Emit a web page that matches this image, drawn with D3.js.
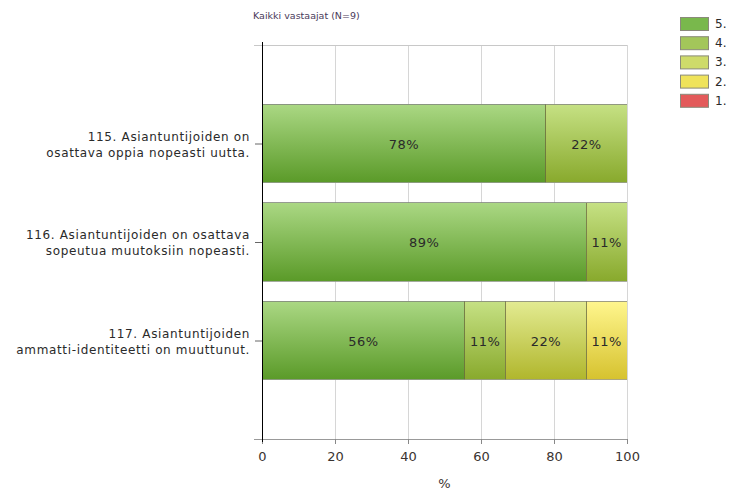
<!DOCTYPE html>
<html><head><meta charset="utf-8">
<script src="https://cdn.jsdelivr.net/npm/d3@7"></script>
<style>body{margin:0;background:#fff;font-family:"DejaVu Sans",Verdana,sans-serif;}</style>
</head><body><svg id="c" width="731" height="491"></svg>
<script>
const title = "Kaikki vastaajat (N=9)";
const categories = [
  ["115. Asiantuntijoiden on", "osattava oppia nopeasti uutta."],
  ["116. Asiantuntijoiden on osattava", "sopeutua muutoksiin nopeasti."],
  ["117. Asiantuntijoiden", "ammatti-identiteetti on muuttunut."]
];
const seriesNames = ["5.", "4.", "3.", "2.", "1."];
const s5 = [77.8, 88.9, 55.6];
const s4 = [22.2, 11.1, 11.1];
const s3 = [0, 0, 22.2];
const s2 = [0, 0, 11.1];
const s1 = [0, 0, 0];
const seriesValues = [s5, s4, s3, s2, s1];
const xTicks = [0, 20, 40, 60, 80, 100];
const xLabel = "%";

const colors = [
  {top:"#abd884", bot:"#5a9a28", leg:"#79b84c"},
  {top:"#c6e184", bot:"#88a92c", leg:"#a3c65a"},
  {top:"#e3eb92", bot:"#b0b62c", leg:"#cedb6a"},
  {top:"#fff68e", bot:"#d6c22e", leg:"#efe35a"},
  {top:"#f08a8a", bot:"#d83a3a", leg:"#e35a5a"}
];

const svg = d3.select("#c");
const defs = svg.append("defs");
colors.forEach((c,i)=>{
  const g = defs.append("linearGradient").attr("id","g"+i).attr("x1",0).attr("y1",0).attr("x2",0).attr("y2",1);
  g.append("stop").attr("offset","0%").attr("stop-color",c.top);
  g.append("stop").attr("offset","100%").attr("stop-color",c.bot);
});

const L = 262, R = 627, T = 45, B = 439;
const x = d3.scaleLinear().domain([0,100]).range([L,R]);
const y = d3.scaleLinear().domain([0, categories.length+1]).range([T,B]);
const bandH = y(1)-y(0);
const barH = bandH*0.8;

svg.append("text").attr("x",253).attr("y",19).attr("font-size",9.5).attr("fill","#4a3a5a").text(title);

// gridlines
svg.append("g").selectAll("line").data(xTicks.slice(1)).join("line")
  .attr("x1",d=>x(d)).attr("x2",d=>x(d)).attr("y1",T).attr("y2",B)
  .attr("stroke","#d6d6d6").attr("stroke-width",1).attr("shape-rendering","crispEdges");
// top border
svg.append("line").attr("x1",254).attr("x2",R).attr("y1",T).attr("y2",T)
  .attr("stroke","#c8c8c8").attr("shape-rendering","crispEdges");

// bars
categories.forEach((cat,ci)=>{
  let acc = 0;
  const yc = y(ci+1);
  seriesValues.forEach((vals,si)=>{
    const v = vals[ci];
    if (v<=0) return;
    const x0 = x(acc), x1 = x(acc+v);
    svg.append("rect").attr("x",x0).attr("y",yc-barH/2).attr("width",x1-x0).attr("height",barH)
      .attr("fill","url(#g"+si+")");
    if (acc>0) svg.append("line").attr("x1",x0).attr("x2",x0).attr("y1",yc-barH/2).attr("y2",yc+barH/2)
      .attr("stroke","#6b6b3a").attr("stroke-opacity",0.8).attr("shape-rendering","crispEdges");
    svg.append("text").attr("x",(x0+x1)/2).attr("y",yc+5).attr("text-anchor","middle")
      .attr("font-size",13).attr("letter-spacing",0.5).attr("fill","#2a2a2a").text(Math.round(v)+"%");
    acc += v;
  });
  svg.append("line").attr("x1",x(0)).attr("x2",x(acc)).attr("y1",yc-barH/2).attr("y2",yc-barH/2)
    .attr("stroke","#777").attr("stroke-opacity",0.7).attr("shape-rendering","crispEdges");
  svg.append("line").attr("x1",x(0)).attr("x2",x(acc)).attr("y1",yc+barH/2).attr("y2",yc+barH/2)
    .attr("stroke","#999").attr("stroke-opacity",0.7).attr("shape-rendering","crispEdges");
});

// x axis
const xa = svg.append("g").attr("transform",`translate(0,${B})`)
  .call(d3.axisBottom(x).tickValues(xTicks).tickSize(5).tickSizeOuter(0));
xa.select(".domain").attr("stroke","#999").attr("d",`M254,0.5H${R}`);
xa.selectAll(".tick line").attr("stroke","#888");
xa.selectAll(".tick text").attr("font-size",13).attr("fill","#3a3330").attr("font-family","DejaVu Sans, Verdana, sans-serif").attr("dy","1.05em");
svg.append("text").attr("x",(L+R)/2).attr("y",488).attr("text-anchor","middle").attr("font-size",13).attr("fill","#3a3330").text(xLabel);

// y axis
const ya = svg.append("g").attr("transform",`translate(${L},0)`)
  .call(d3.axisLeft(y).tickValues(categories.map((c,i)=>i+1)).tickSize(7).tickFormat(""));
ya.select(".domain").attr("stroke","#000").attr("d",`M0.5,${T-3}V${B+3}`);
ya.selectAll(".tick line").attr("stroke","#666");

// category labels
categories.forEach((cat,ci)=>{
  const t = svg.append("text").attr("text-anchor","end").attr("font-size",12).attr("letter-spacing",0.65).attr("fill","#2a2a2a");
  t.append("tspan").attr("x",250).attr("y",y(ci+1)-3).text(cat[0]);
  t.append("tspan").attr("x",250).attr("y",y(ci+1)+13).text(cat[1]);
});

// legend
seriesNames.forEach((n,i)=>{
  const yy = 17 + i*19.2;
  svg.append("rect").attr("x",680.5).attr("y",yy+0.5).attr("width",28).attr("height",13)
    .attr("fill",colors[i].leg).attr("stroke","#8a8a7a").attr("stroke-width",1);
  svg.append("text").attr("x",715).attr("y",yy+11).attr("font-size",12).attr("fill","#2a2a2a").text(n);
});
</script></body></html>
